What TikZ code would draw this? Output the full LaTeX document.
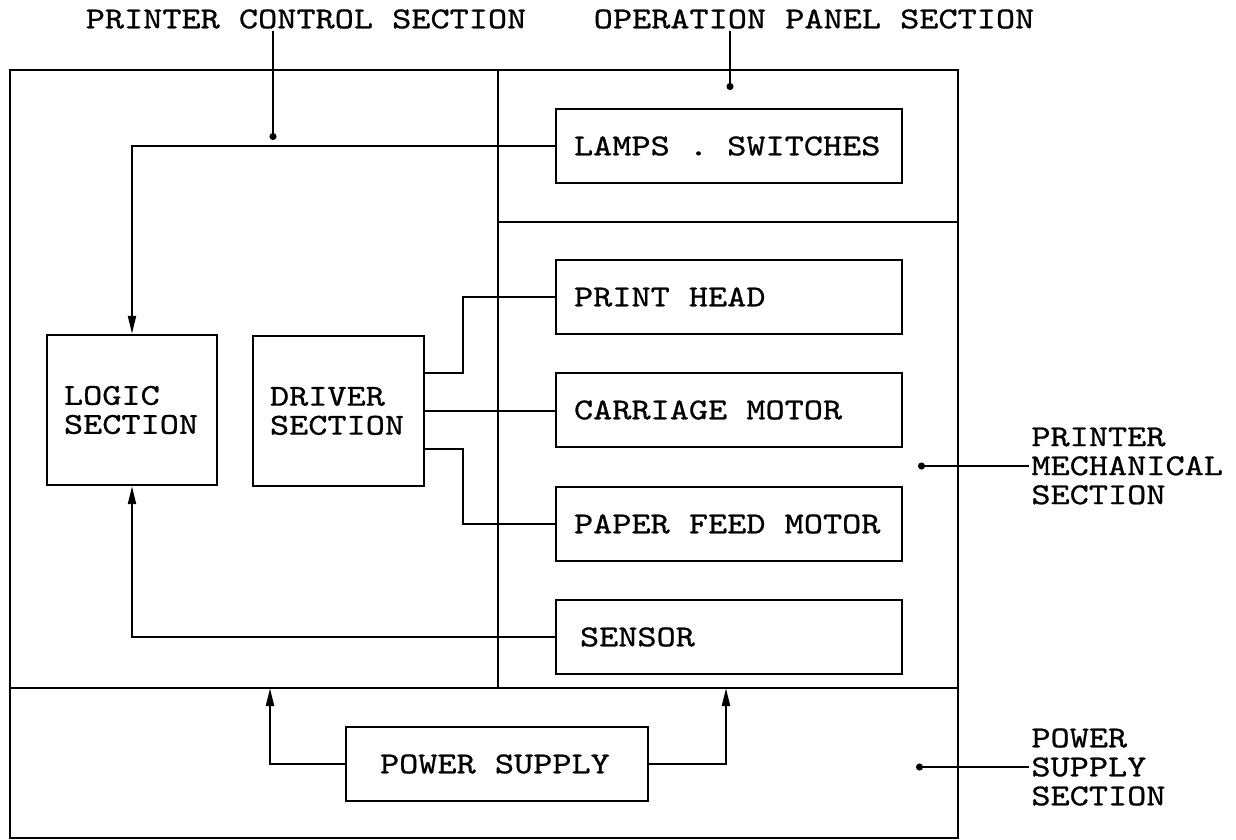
\documentclass[tikz,border=0pt]{standalone}
\usepackage{fontspec}
\newfontfamily\typefont{lmmono10-regular.otf}[FakeStretch=1.2, FakeBold=0.8]
\usetikzlibrary{arrows.meta}
\tikzset{
	sectline/.style={line width=1.1pt},
	divider/.style={line width=0.8pt},
	blk/.style={draw, line width=1.2pt, align=flush left, inner ysep=0pt,
		execute at begin node={\spaceskip=0pt\xspaceskip=0pt\relax}},
	dev/.style={blk, text width=155pt, inner xsep=9pt, minimum height=37pt},
	conn/.style={line width=1.1pt},
	sig/.style={conn, -{Triangle[length=9pt, width=4pt]}},
	leader/.style={line width=0.8pt, -{Circle[length=3.5pt]}},
	lbl/.style={inner sep=1pt, align=left}
}

\begin{document}
\begin{tikzpicture}[x=0.5pt, y=-0.5pt, font=\typefont\fontsize{15.2}{14.5}\selectfont]
	\useasboundingbox (0,0) rectangle (1236,840);
	% sections
	\draw[sectline] (10,70) rectangle (958,838);
	\draw[sectline] (10,688) -- (958,688);
	\draw[divider] (498,70) -- (498,688);
	\draw[divider] (498,222) -- (958,222);
	% blocks
	\node[dev] (lamps) at (729,146) {LAMPS . SWITCHES};
	\node[dev] (head) at (729,297) {PRINT HEAD};
	\node[dev] (carriage) at (729,410) {CARRIAGE MOTOR};
	\node[dev] (feed) at (729,524) {PAPER FEED MOTOR};
	\node[dev, text width=149pt, inner xsep=12pt] (sensor) at (729,637) {SENSOR};
	\node[blk, text width=68pt, inner xsep=8.5pt, minimum height=75pt] (logic) at (132,410) {LOGIC\\SECTION};
	\node[blk, text width=68.5pt, inner xsep=8.5pt, minimum height=75pt] (driver) at (338.5,411) {DRIVER\\SECTION};
	\node[blk, text width=117pt, inner xsep=17pt, minimum height=37pt] (power) at (497,764) {POWER SUPPLY};
	% section labels
	\node[lbl] (pcs) at (306,19) {PRINTER CONTROL SECTION};
	\node[lbl] (ops) at (814,19) {OPERATION PANEL SECTION};
	\node[lbl, anchor=west] (mech) at (1029,466) {PRINTER\\MECHANICAL\\SECTION};
	\node[lbl, anchor=west] (pss) at (1029,767) {POWER\\SUPPLY\\SECTION};
	\coordinate (pcsdot) at (273,140);
	\coordinate (opsdot) at (730,90);
	\coordinate (mechdot) at (918,466);
	\coordinate (pssdot) at (916,767);
	\draw[leader] (pcs.south -| pcsdot) -- (pcsdot);
	\draw[leader] (ops.south -| opsdot) -- (opsdot);
	\draw[leader] (mech.west) -- (mechdot);
	\draw[leader] (pss.west) -- (pssdot);
	% signal lines
	\draw[sig] (lamps.west) -| (logic.north);
	\draw[sig] (sensor.west) -| (logic.south);
	\draw[conn] ([yshift=19pt]driver.east) -- ++(19pt,0) |- (head.west);
	\draw[conn] (driver.east) -- (driver.east -| carriage.west);
	\draw[conn] ([yshift=-19pt]driver.east) -- ++(19pt,0) |- (feed.west);
	% power feeds
	\coordinate (pwrl) at (270,688);
	\coordinate (pwrr) at (726,688);
	\draw[sig] (power.west) -| (pwrl);
	\draw[sig] (power.east) -| (pwrr);
\end{tikzpicture}
\end{document}
